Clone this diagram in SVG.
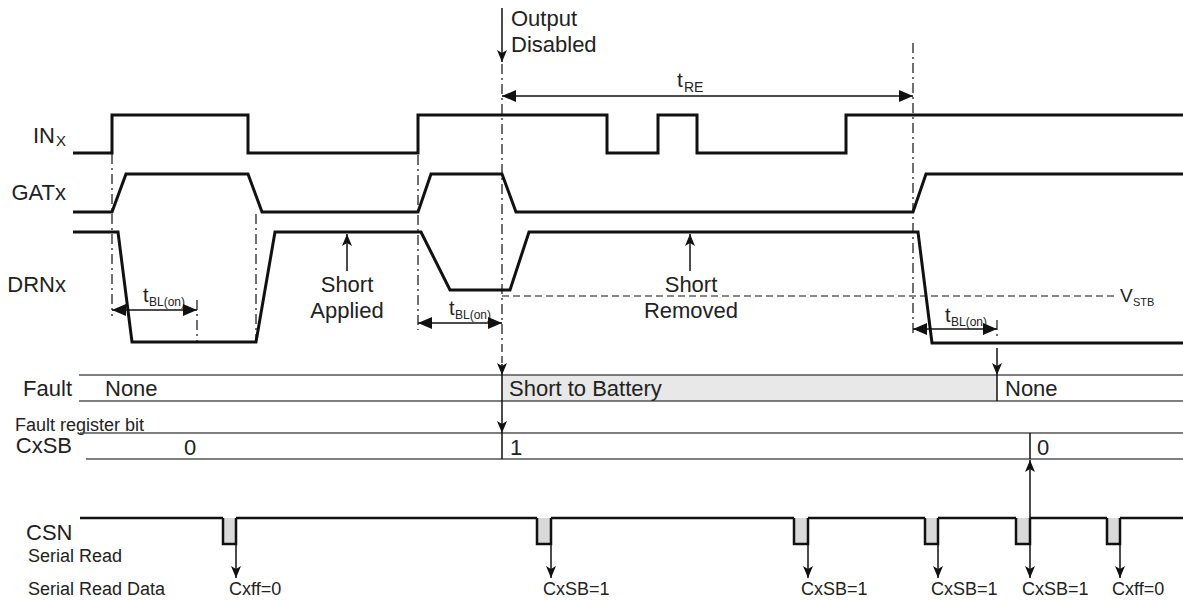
<svg xmlns="http://www.w3.org/2000/svg" width="1183" height="600" viewBox="0 0 1183 600">
<style>
text{font-family:"Liberation Sans",Arial,sans-serif;fill:#222}
.lbl{font-size:22px}
.sm{font-size:18px}
.tt{font-size:20px}
.sub{font-size:12px}
.sig{fill:none;stroke:#111;stroke-width:3;stroke-linejoin:miter}
.dd{fill:none;stroke:#111;stroke-width:1.2;stroke-dasharray:10 4 2 4}
.dash{fill:none;stroke:#111;stroke-width:1.2;stroke-dasharray:7 4}
.arr{fill:none;stroke:#111;stroke-width:1.5}
.row{fill:none;stroke:#555;stroke-width:1.5}
.pulse{fill:#d9d9d9;stroke:#111;stroke-width:2.5}
</style>
<defs>
<marker id="ah" viewBox="0 0 12 10" refX="12" refY="5" markerWidth="12" markerHeight="10" markerUnits="userSpaceOnUse" orient="auto-start-reverse"><path d="M0,0 L12,5 L0,10 L3,5 z" fill="#111"/></marker>
<marker id="big" viewBox="0 0 14 12" refX="14" refY="6" markerWidth="14" markerHeight="12" markerUnits="userSpaceOnUse" orient="auto-start-reverse"><path d="M0,0 L14,6 L0,12 z" fill="#111"/></marker>
</defs>

<g id="labels">
<text class="lbl" x="55" y="143" text-anchor="end">IN</text><text x="56" y="146" style="font-size:15px">X</text>
<text class="lbl" x="66" y="200" text-anchor="end">GATx</text>
<text class="lbl" x="66" y="292" text-anchor="end">DRNx</text>
<text class="lbl" x="72" y="396" text-anchor="end">Fault</text>
<text class="sm" x="15" y="431">Fault register bit</text>
<text class="lbl" x="72" y="453" text-anchor="end">CxSB</text>
<text class="lbl" x="26" y="540">CSN</text>
<text class="sm" x="28" y="562">Serial Read</text>
<text class="sm" x="28" y="595">Serial Read Data</text>
</g>

<g id="INx">
<path class="sig" d="M73,153 H112 V115 H248 V153 H418 V115 H607 V153 H658 V115 H697 V153 H846 V115 H1183"/>
</g>
<g id="GATx">
<path class="sig" d="M73,212 H112 L126,174 H248 L262,212 H418 L431,174 H502 L516,212 H913 L926,174 H1183"/>
</g>
<g id="DRNx">
<path class="sig" d="M73,232 H118 L132,342 H256 L275,232 H421 L450,290 H510 L529,232 H918 L932,343 H1183"/>
<path class="dash" d="M502,296 H1115"/>
<text x="1120" y="302" style="font-size:19px">V</text><text x="1133" y="306" style="font-size:11px">STB</text>
</g>

<g id="output-disabled">
<text class="lbl" x="511" y="26">Output</text>
<text class="lbl" x="511" y="52">Disabled</text>
</g>

<g id="tRE">
<text x="677" y="87" style="font-size:21px">t</text><text x="684" y="92" style="font-size:14px">RE</text>
</g>

<g id="tBL1"><text class="tt" x="143" y="302">t</text><text class="sub" x="149" y="306">BL(on)</text></g>
<g id="tBL2"><text class="tt" x="449" y="315">t</text><text class="sub" x="455" y="319">BL(on)</text></g>
<g id="tBL3"><text class="tt" x="945" y="322">t</text><text class="sub" x="951" y="326">BL(on)</text></g>

<g id="short-applied">
<text class="lbl" x="347" y="292" text-anchor="middle">Short</text>
<text class="lbl" x="347" y="318" text-anchor="middle">Applied</text>
</g>
<g id="short-removed">
<text class="lbl" x="691" y="292" text-anchor="middle">Short</text>
<text class="lbl" x="691" y="318" text-anchor="middle">Removed</text>
</g>

<g id="fault-row">
<rect x="502" y="375" width="495" height="26" fill="#e8e8e8"/>
<path class="row" d="M79,375 H1183 M79,401 H1183"/>
<path class="row" d="M502,375 V401 M997,375 V401" style="stroke:#111"/>
<text class="lbl" x="105" y="396">None</text>
<text class="lbl" x="509" y="396">Short to Battery</text>
<text class="lbl" x="1005" y="396">None</text>
</g>

<g id="cxsb-row">
<path class="row" d="M80,433 H1183 M86,459 H1183"/>
<path class="row" d="M502,433 V459 M1030,433 V459" style="stroke:#111"/>
<text class="lbl" x="184" y="455">0</text>
<text class="lbl" x="510" y="455">1</text>
<text class="lbl" x="1037" y="455">0</text>
</g>

<g id="CSN">
<path class="sig" style="stroke-width:2.5" d="M80,518 H223 M236,518 H537 M551,518 H794 M808,518 H925 M938,518 H1016 M1030,518 H1107 M1120,518 H1183"/>
<path class="pulse" d="M223,518 V544 H236 V518"/>
<path class="pulse" d="M537,518 V544 H551 V518"/>
<path class="pulse" d="M794,518 V544 H808 V518"/>
<path class="pulse" d="M925,518 V544 H938 V518"/>
<path class="pulse" d="M1016,518 V544 H1030 V518"/>
<path class="pulse" d="M1107,518 V544 H1120 V518"/>
<text class="sm" x="229" y="595">Cxff=0</text>
<text class="sm" x="543" y="595">CxSB=1</text>
<text class="sm" x="801" y="595">CxSB=1</text>
<text class="sm" x="931" y="595">CxSB=1</text>
<text class="sm" x="1022" y="595">CxSB=1</text>
<text class="sm" x="1112" y="595">Cxff=0</text>
</g>

<g id="connectors">
<path class="dd" d="M112,154 V316"/>
<path class="dd" d="M256,214 V342"/>
<path class="dd" d="M197,300 V342"/>
<path class="dd" d="M418,155 V330"/>
<path class="dd" d="M502,64 V345"/>
<path class="dd" d="M913,43 V335"/>
<path class="dd" d="M997,320 V338"/>
<path class="arr" d="M502,8 V62" marker-end="url(#ah)"/>
<path class="arr" d="M502,96 H913" marker-start="url(#big)" marker-end="url(#big)"/>
<path class="arr" d="M112,310 H197" marker-start="url(#big)" marker-end="url(#big)"/>
<path class="arr" d="M418,323 H502" marker-start="url(#big)" marker-end="url(#big)"/>
<path class="arr" d="M913,329 H997" marker-start="url(#big)" marker-end="url(#big)"/>
<path class="arr" d="M347,271 V234" marker-end="url(#ah)"/>
<path class="arr" d="M690,271 V234" marker-end="url(#ah)"/>
<path class="dash" d="M502,345 V366"/>
<path class="arr" d="M502,364 V375" marker-end="url(#ah)"/>
<path class="arr" d="M502,401 V433" marker-end="url(#ah)"/>
<path class="arr" d="M997,348 V375" marker-end="url(#ah)"/>
<path class="arr" d="M1030,518 V460" marker-end="url(#ah)"/>
<path class="arr" d="M236,544 V578" marker-end="url(#ah)"/>
<path class="arr" d="M551,544 V578" marker-end="url(#ah)"/>
<path class="arr" d="M808,544 V578" marker-end="url(#ah)"/>
<path class="arr" d="M938,544 V578" marker-end="url(#ah)"/>
<path class="arr" d="M1030,544 V578" marker-end="url(#ah)"/>
<path class="arr" d="M1120,544 V578" marker-end="url(#ah)"/>
</g>
</svg>
